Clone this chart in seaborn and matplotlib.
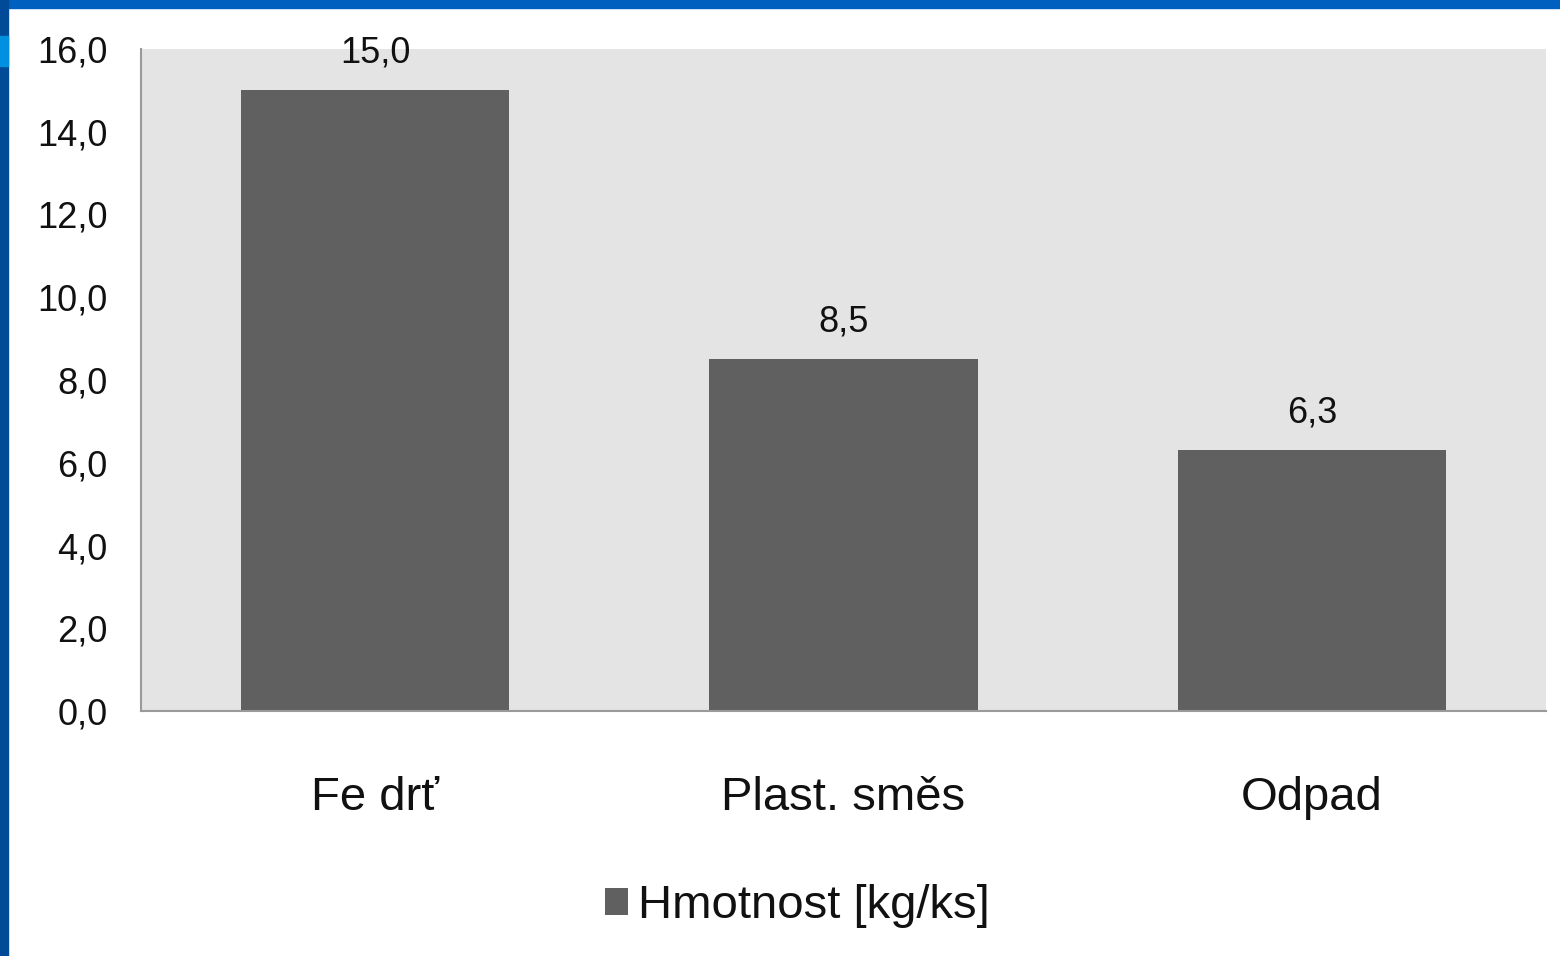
import matplotlib.pyplot as plt
import matplotlib.patches as mpatches
from matplotlib.ticker import FuncFormatter
import pandas as pd
import seaborn as sns

categories = ['Fe drť', 'Plast. směs', 'Odpad']
values = [15.0, 8.5, 6.3]
series_name = 'Hmotnost [kg/ks]'
y_ticks = [0, 2, 4, 6, 8, 10, 12, 14, 16]


def comma(v, pos=None):
    return f'{v:.1f}'.replace('.', ',')


def main():
    sns.set_style('white')
    plt.rcParams['font.family'] = ['Liberation Sans Narrow', 'Liberation Sans', 'DejaVu Sans']
    df = pd.DataFrame({'kategorie': categories, 'hodnota': values})

    fig = plt.figure(figsize=(15.6, 9.56), dpi=100)
    ax = fig.add_axes([141 / 1560, 1 - 711 / 956, 1405 / 1560, 662 / 956])
    ax.set_facecolor('#e4e4e4')

    sns.barplot(data=df, x='kategorie', y='hodnota', color='#606060',
                width=0.573, saturation=1, linewidth=0, label=series_name, ax=ax)
    ax.bar_label(ax.containers[0], labels=[comma(v) for v in values],
                 padding=14, fontsize=26, color='#111111')

    ax.set_xlim(-0.5, 2.5)
    ax.set_ylim(0, 16)
    ax.set_yticks(y_ticks)
    ax.yaxis.set_major_formatter(FuncFormatter(comma))
    ax.tick_params(axis='y', length=0, pad=24, labelsize=26, labelcolor='#111111')
    ax.tick_params(axis='x', length=0, pad=47, labelsize=34, labelcolor='#111111')
    ax.set_xlabel('')
    ax.set_ylabel('')
    for side in ['top', 'right']:
        ax.spines[side].set_visible(False)
    for side in ['left', 'bottom']:
        ax.spines[side].set_color('#9a9a9a')
        ax.spines[side].set_linewidth(1.5)

    handles, labels = ax.get_legend_handles_labels()
    if ax.get_legend() is not None:
        ax.get_legend().remove()
    fig.legend(handles, labels, loc='center', bbox_to_anchor=(797 / 1560, 0.052),
               frameon=False, fontsize=34, handlelength=0.5, handleheight=0.5,
               handletextpad=0.2, labelcolor='#111111')

    # blue slide frame
    fig.patches.append(mpatches.Rectangle((0, 1 - 8 / 956), 1, 8 / 956,
                                          transform=fig.transFigure, color='#0060c0'))
    fig.patches.append(mpatches.Rectangle((0, 0), 8 / 1560, 1,
                                          transform=fig.transFigure, color='#004a98'))
    fig.patches.append(mpatches.Rectangle((0, 1 - 66 / 956), 8 / 1560, 30 / 956,
                                          transform=fig.transFigure, color='#0090e0'))

    fig.savefig('out.png', dpi=100)
    plt.close(fig)


if __name__ == '__main__':
    main()
